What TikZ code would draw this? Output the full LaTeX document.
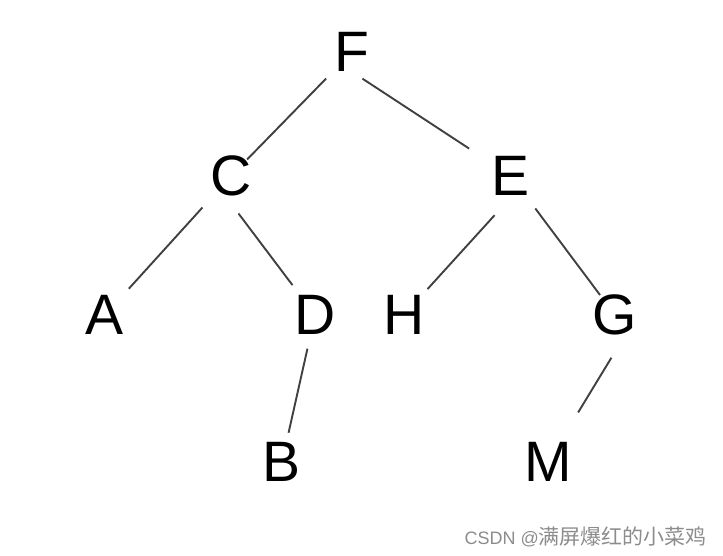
\documentclass[tikz,border=0pt]{standalone}
\usepackage{fontspec}
\setmainfont{Liberation Sans}
\newfontfamily\cjkfont{Noto Sans CJK SC}

\begin{document}
\begin{tikzpicture}[x=1pt, y=-1pt,
    letter/.style={font=\fontsize{57}{57}\selectfont, inner sep=0pt},
    edge/.style={line width=1.9pt, black!75}]
  \useasboundingbox (0,0) rectangle (723,556);

  % Tree nodes
  \node[letter] (F) at (352,52) {F};
  \node[letter] (C) at (231,176) {C};
  \node[letter] (E) at (511,176) {E};
  \node[letter] (A) at (105,315) {A};
  \node[letter] (D) at (315,315) {D};
  \node[letter] (H) at (404,315) {H};
  \node[letter] (G) at (615,315) {G};
  \node[letter] (B) at (282,462) {B};
  \node[letter] (M) at (548,462) {M};

  % Edges
  \draw[edge, shorten <=37pt, shorten >=23pt] (F.center) -- (C.center);
  \draw[edge, shorten <=12.5pt, shorten >=50pt] (F.south) -- (E.center);
  \draw[edge, shorten <=42.5pt, shorten >=35.5pt] (C.center) -- (A.center);
  \draw[edge, shorten <=47pt, shorten >=37.5pt] (C.west) -- (D.center);
  \draw[edge, shorten <=53pt, shorten >=35pt] (E.east) -- (H.center);
  \draw[edge, shorten <=40.5pt, shorten >=25pt] (E.center) -- (G.center);
  \draw[edge, shorten <=34.5pt, shorten >=30pt] (D.center) -- (B.center);
  \draw[edge, shorten <=50pt, shorten >=58pt] (G.east) -- (M.center);

  % Watermark
  \node[anchor=east, inner sep=0pt, text=black!45] (mark) at (707,537)
    {\fontsize{18}{18}\selectfont CSDN @\cjkfont\fontsize{21}{21}\selectfont 满屏爆红的小菜鸡};
\end{tikzpicture}
\end{document}
